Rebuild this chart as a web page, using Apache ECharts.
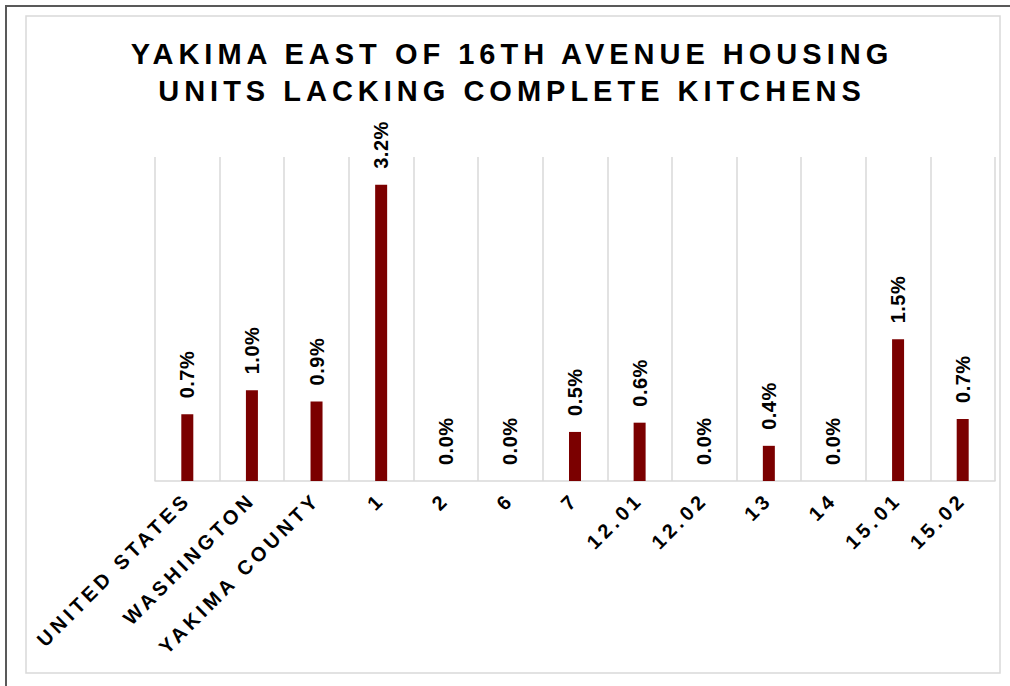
<!DOCTYPE html>
<html>
<head>
<meta charset="utf-8">
<script src="https://cdn.jsdelivr.net/npm/echarts@6/dist/echarts.min.js"></script>
<style>
  html, body { margin: 0; padding: 0; background: #ffffff; }
  #chart { width: 1010px; height: 686px; }
</style>
</head>
<body>
<div id="chart"></div>
<script>
// Share of housing units lacking complete kitchens, by area / census tract
const categories = ['UNITED STATES', 'WASHINGTON', 'YAKIMA COUNTY', '1', '2', '6', '7',
                    '12.01', '12.02', '13', '14', '15.01', '15.02'];
const lackingKitchenPct = [0.72, 0.98, 0.86, 3.2, 0, 0, 0.53, 0.63, 0, 0.38, 0, 1.53, 0.67];
const titleLines = ['YAKIMA EAST OF 16TH AVENUE HOUSING', 'UNITS LACKING COMPLETE KITCHENS'];

const FONT = 'Liberation Sans, Arial, sans-serif';
const chart = echarts.init(document.getElementById('chart'), null, { renderer: 'svg' });

chart.setOption({
  animation: false,
  backgroundColor: '#ffffff',
  title: {
    text: titleLines.join('\n'),
    left: 512,
    top: 35,
    padding: 0,
    textAlign: 'center',
    textStyle: {
      fontFamily: FONT,
      fontWeight: 'bold',
      fontSize: 29,
      lineHeight: 37,
      color: '#000000'
    }
  },
  graphic: [
    {
      type: 'rect',
      shape: { x: 26, y: 16, width: 974, height: 657 },
      style: { fill: 'none', stroke: '#d9d9d9', lineWidth: 1.5 },
      silent: true
    },
    {
      type: 'polyline',
      shape: { points: [[6, 700], [6, 6], [1020, 6]] },
      style: { fill: 'none', stroke: '#595959', lineWidth: 2 },
      silent: true
    }
  ],
  grid: { left: 155, right: 15, top: 157, bottom: 205 },
  xAxis: {
    type: 'category',
    data: categories,
    boundaryGap: true,
    axisLine: { show: true, lineStyle: { color: '#d9d9d9', width: 1.5 } },
    axisTick: { show: false },
    splitLine: { show: true, interval: 0, lineStyle: { color: '#d9d9d9', width: 1.5 } },
    axisLabel: {
      interval: 0,
      rotate: 45,
      margin: 15,
      fontFamily: FONT,
      fontWeight: 'bold',
      fontSize: 20,
      color: '#000000'
    }
  },
  yAxis: {
    type: 'value',
    min: 0,
    max: 3.5,
    show: false,
    splitLine: { show: false }
  },
  series: [{
    type: 'bar',
    data: lackingKitchenPct,
    barWidth: 12,
    itemStyle: { color: '#7b0000' },
    label: {
      show: true,
      position: 'top',
      distance: 16,
      rotate: 90,
      align: 'left',
      verticalAlign: 'middle',
      fontFamily: FONT,
      fontWeight: 'bold',
      fontSize: 20,
      color: '#000000',
      formatter: p => p.value.toFixed(1) + '%'
    }
  }]
});

// Wide character spacing for the title and category labels
function applySpacing() {
  document.querySelectorAll('#chart svg text').forEach(t => {
    const s = t.textContent.trim();
    if (titleLines.includes(s)) t.style.letterSpacing = '5px';
    else if (categories.includes(s)) t.style.letterSpacing = '4px';
    else if (s.endsWith('%')) t.style.letterSpacing = '0.5px';
  });
}
applySpacing();
chart.on('finished', applySpacing);
</script>
</body>
</html>
